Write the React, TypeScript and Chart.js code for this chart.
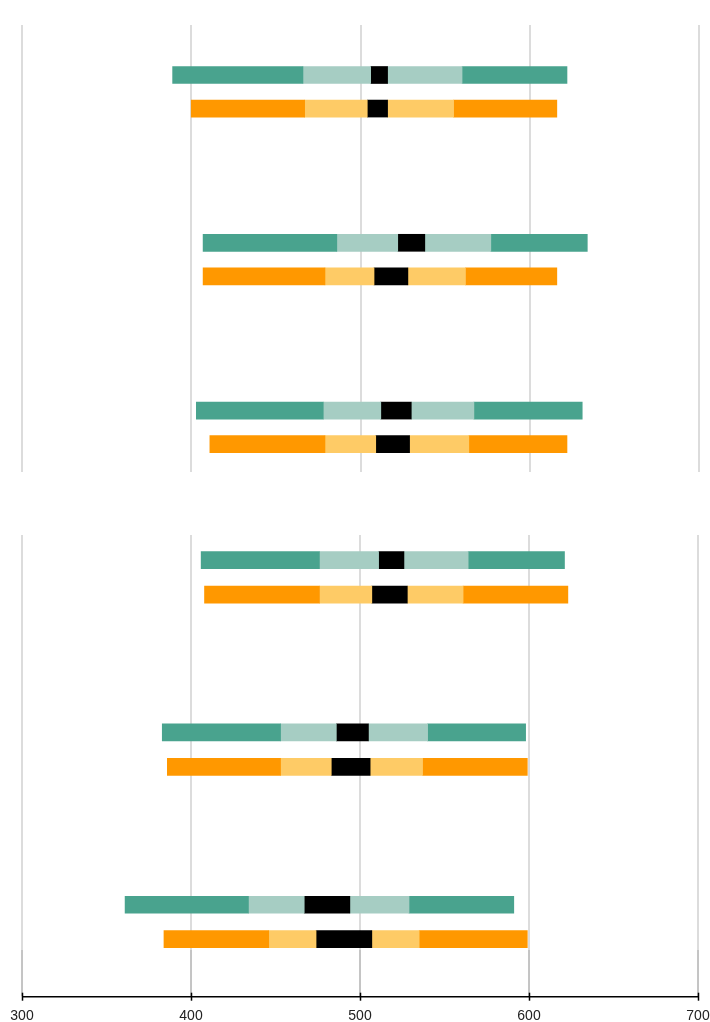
import React, { useEffect, useRef } from "react";
import { Chart, registerables } from "chart.js";

Chart.register(...registerables);

// Groups (rows of paired bars) – no visible labels in the reference
const groups = ["Group 1", "Group 2", "Group 3"];
const seriesNames = ["Teal", "Orange"];

// Each bar: [p5, p25, ciLow, ciHigh, p75, p95]
const topTeal = [
  [389, 466, 506, 516, 560, 622],
  [407, 486, 522, 538, 577, 634],
  [403, 478, 512, 530, 567, 631],
];
const topOrange = [
  [400, 467, 504, 516, 555, 616],
  [407, 479, 508, 528, 562, 616],
  [411, 479, 509, 529, 564, 622],
];
const bottomTeal = [
  [406, 476, 511, 526, 564, 621],
  [383, 453, 486, 505, 540, 598],
  [361, 434, 467, 494, 529, 591],
];
const bottomOrange = [
  [408, 476, 507, 528, 561, 623],
  [386, 453, 483, 506, 537, 599],
  [384, 446, 474, 507, 535, 599],
];

const xTicks = [300, 400, 500, 600, 700];

const darkColors = ["#49a38e", "#ff9800"];
const lightColors = ["#a6cdc3", "#fecb66"];
const ciColor = "#000000";

Chart.defaults.font.family = "'Liberation Sans', Arial, sans-serif";

function buildDatasets(teal: number[][], orange: number[][]) {
  const series = [teal, orange];
  return [0, 1, 2, 3, 4].map((k) => {
    const data: any[] = [];
    const colors: string[] = [];
    groups.forEach((_, gi) => {
      series.forEach((s, si) => {
        const b = s[gi];
        data.push({ x: [b[k], b[k + 1]], y: gi * 5 + si });
        colors.push(k === 2 ? ciColor : k === 1 || k === 3 ? lightColors[si] : darkColors[si]);
      });
    });
    return {
      label: "segment " + k,
      data,
      backgroundColor: colors,
      borderWidth: 0,
      barThickness: 17,
      grouped: false,
    };
  });
}

const axisLinePlugin = {
  id: "axisLine",
  afterDraw(chart: any) {
    const opts = chart.options.plugins.axisLine;
    if (!opts || !opts.enabled) return;
    const ctx = chart.ctx;
    const xs = chart.scales.x;
    const y = chart.chartArea.bottom + opts.offset;
    ctx.save();
    ctx.strokeStyle = "#000";
    ctx.lineWidth = 1.5;
    ctx.beginPath();
    ctx.moveTo(xs.getPixelForValue(xTicks[0]), y);
    ctx.lineTo(xs.getPixelForValue(xTicks[xTicks.length - 1]), y);
    ctx.stroke();
    xTicks.forEach((t) => {
      const px = Math.round(xs.getPixelForValue(t)) + 0.5;
      ctx.beginPath();
      ctx.moveTo(px, y - 4);
      ctx.lineTo(px, y + 4);
      ctx.stroke();
    });
    ctx.restore();
  },
};

function makeOptions(bottom: boolean, yMin: number, yMax: number, padding: any): any {
  return {
    indexAxis: "y",
    responsive: false,
    maintainAspectRatio: false,
    animation: false,
    layout: { padding },
    plugins: {
      legend: { display: false },
      tooltip: { enabled: false },
      axisLine: { enabled: bottom, offset: 46.5 },
    },
    scales: {
      x: {
        type: "linear",
        min: xTicks[0],
        max: xTicks[xTicks.length - 1],
        afterBuildTicks: (scale: any) => {
          scale.ticks = xTicks.map((v) => ({ value: v }));
        },
        afterFit: (scale: any) => {
          scale.paddingLeft = 0;
          scale.paddingRight = 0;
        },
        grid: {
          color: "#dcdcdc",
          lineWidth: 2,
          drawTicks: bottom,
          tickLength: 46,
          tickColor: "#8a8a8a",
          tickWidth: 1,
        },
        border: { display: false },
        ticks: {
          display: bottom,
          padding: 12,
          color: "#222",
          font: { size: 14 },
          maxRotation: 0,
        },
      },
      y: {
        type: "linear",
        reverse: true,
        offset: false,
        grid: { offset: false },
        min: yMin,
        max: yMax,
        display: false,
      },
    },
  };
}

function Panel(props: { teal: number[][]; orange: number[][]; bottom: boolean; top: number; height: number; yMin: number; yMax: number; padding: any }) {
  const ref = useRef<HTMLCanvasElement | null>(null);
  useEffect(() => {
    if (!ref.current) return;
    const chart = new Chart(ref.current, {
      type: "bar",
      data: { datasets: buildDatasets(props.teal, props.orange) as any },
      options: makeOptions(props.bottom, props.yMin, props.yMax, props.padding),
      plugins: [axisLinePlugin as any],
    });
    return () => chart.destroy();
  }, []);
  return (
    <div style={{ position: "absolute", left: 0, top: props.top, width: 710, height: props.height }}>
      <canvas ref={ref} width={710} height={props.height} style={{ display: "block" }} />
    </div>
  );
}

export default function App() {
  return (
    <div style={{ position: "absolute", left: 0, top: 0, width: 710, height: 1022, background: "#fff", overflow: "hidden" }}>
      <Panel
        teal={topTeal}
        orange={topOrange}
        bottom={false}
        top={0}
        height={500}
        yMin={-1.49}
        yMax={11.83}
        padding={{ left: 22, right: 11, top: 25, bottom: 28 }}
      />
      <Panel
        teal={bottomTeal}
        orange={bottomOrange}
        bottom={true}
        top={500}
        height={537}
        yMin={-0.73}
        yMax={11.32}
        padding={{ left: 22, right: 12, top: 35, bottom: 0 }}
      />
    </div>
  );
}
